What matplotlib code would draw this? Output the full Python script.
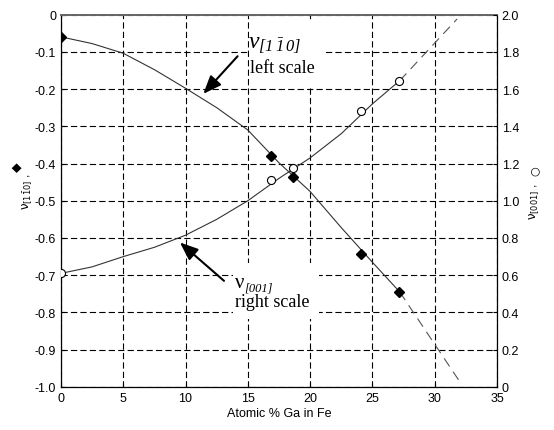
import matplotlib
matplotlib.use("Agg")
import matplotlib.pyplot as plt
from matplotlib.patches import Rectangle

plt.rcParams['font.family'] = ['Liberation Sans', 'DejaVu Sans']
plt.rcParams['axes.unicode_minus'] = False
plt.rcParams['lines.scale_dashes'] = False
# all-italic serif math for the upper annotation
plt.rcParams['mathtext.fontset'] = 'custom'
plt.rcParams['mathtext.rm'] = 'Liberation Serif:italic'
plt.rcParams['mathtext.it'] = 'Liberation Serif:italic'

# measured points
ga_pct = [0, 16.9, 18.6, 24.05, 27.15]
nu_110 = [-0.06, -0.381, -0.437, -0.643, -0.746]   # left scale
nu_001 = [0.61, 1.11, 1.175, 1.484, 1.645]         # right scale

# fitted curves
fit_x = [0, 2.5, 5, 7.5, 10, 12.5, 15, 17.5, 20, 22.5, 25, 27.2]
fit_110 = [-0.06, -0.078, -0.104, -0.148, -0.198, -0.25, -0.31, -0.398,
           -0.475, -0.572, -0.665, -0.745]
fit_001 = [0.61, 0.645, 0.70, 0.75, 0.815, 0.9, 1.0, 1.12, 1.23, 1.36,
           1.52, 1.645]
ext110_x = [27.2, 32.1]
ext110_y = [-0.745, -0.99]
ext001_x = [27.2, 31.8]
ext001_y = [1.645, 1.976]

xticks = [0, 5, 10, 15, 20, 25, 30, 35]
left_ticks = [0, -0.1, -0.2, -0.3, -0.4, -0.5, -0.6, -0.7, -0.8, -0.9, -1.0]
left_labels = ['0', '-0.1', '-0.2', '-0.3', '-0.4', '-0.5', '-0.6', '-0.7',
               '-0.8', '-0.9', '-1.0']
right_ticks = [0, 0.2, 0.4, 0.6, 0.8, 1.0, 1.2, 1.4, 1.6, 1.8, 2.0]
right_labels = ['0', '0.2', '0.4', '0.6', '0.8', '1.0', '1.2', '1.4', '1.6',
                '1.8', '2.0']

serif = ['Liberation Serif', 'DejaVu Serif']

fig = plt.figure(figsize=(5.54, 4.31), dpi=100)
ax = fig.add_axes([0.110, 0.0998, 0.787, 0.8642])
ax.set_xlim(0, 35)
ax.set_ylim(-1.0, 0)
ax.set_xticks(xticks)
ax.set_xticklabels([str(t) for t in xticks])
ax.set_yticks(left_ticks)
ax.set_yticklabels(left_labels)
ax.tick_params(direction='in', length=3, labelsize=9, colors='black')
ax.grid(True, color='black', lw=0.8, ls=(0, (4.5, 2.3)))
for s in ax.spines.values():
    s.set_linewidth(0.9)
ax.spines['top'].set_color('#666666')
ax.spines['top'].set_linewidth(1.4)
ax.set_xlabel('Atomic % Ga in Fe', fontsize=9, labelpad=2)

ax2 = ax.twinx()
ax2.set_ylim(0, 2.0)
ax2.set_yticks(right_ticks)
ax2.set_yticklabels(right_labels)
ax2.tick_params(direction='in', length=3, labelsize=9)
for s in ax2.spines.values():
    s.set_visible(False)

# white boxes behind the annotations hide the grid
ax.add_patch(Rectangle((15.1, -0.195), 6.1, 0.175, facecolor='white',
                       edgecolor='none', zorder=3))
ax.add_patch(Rectangle((13.8, -0.817), 6.95, 0.15, facecolor='white',
                       edgecolor='none', zorder=3))

# curves and markers
ax.plot(fit_x, fit_110, color='#333333', lw=0.8, zorder=4)
ax.plot(ext110_x, ext110_y, color='#555555', lw=0.8, ls=(0, (7, 4.5)), zorder=4)
ax.plot(ga_pct, nu_110, ls='none', marker='D', ms=5.5, color='black', zorder=5)
ax2.plot(fit_x, fit_001, color='#333333', lw=0.8)
ax2.plot(ext001_x, ext001_y, color='#555555', lw=0.8, ls=(0, (7, 4.5)))
ax2.plot(ga_pct, nu_001, ls='none', marker='o', ms=5.8, mfc='white',
         mec='black', mew=0.8)

# annotations
ax.text(15.0, -0.087, r'$\nu_{[1\,\bar{1}\,0]}$', fontsize=17,
        math_fontfamily='custom', ha='left', va='baseline', zorder=6)
ax.text(15.15, -0.154, 'left scale', fontsize=13, family=serif,
        ha='left', va='baseline', zorder=6)
ax.text(13.95, -0.732, '\u03bd', fontsize=15, family=serif,
        ha='left', va='baseline', zorder=6)
ax.text(14.72, -0.74, '[001]', fontsize=9, style='italic', family=serif,
        ha='left', va='baseline', zorder=6)
ax.text(13.95, -0.782, 'right scale', fontsize=13, family=serif,
        ha='left', va='baseline', zorder=6)

arrow = dict(arrowstyle='-|>,head_length=0.55,head_width=0.22',
             mutation_scale=20, color='black', lw=1.5, shrinkA=0, shrinkB=0)
ax.annotate('', xy=(11.43, -0.213), xytext=(14.18, -0.112),
            arrowprops=arrow, zorder=6)
ax.annotate('', xy=(9.55, -0.612), xytext=(13.09, -0.715),
            arrowprops=arrow, zorder=6)

# axis labels with their symbols
fig.text(0.0505, 0.555, r'$\mathrm{\nu}_{[1\bar{1}0]}$ ,', rotation=90,
         fontsize=8.5, ha='center', va='center', math_fontfamily='dejavusans')
fig.text(0.0300, 0.612, '\u25c6', rotation=90, fontsize=9,
         family='DejaVu Sans', ha='center', va='center')
fig.text(0.9657, 0.531, r'$\mathrm{\nu}_{[001]}$ ,', rotation=90,
         fontsize=8.5, ha='center', va='center', math_fontfamily='dejavusans')
fig.text(0.9657, 0.603, '\u25cb', rotation=90, fontsize=8,
         family='DejaVu Sans', ha='center', va='center')

fig.savefig('out.png', dpi=100)
